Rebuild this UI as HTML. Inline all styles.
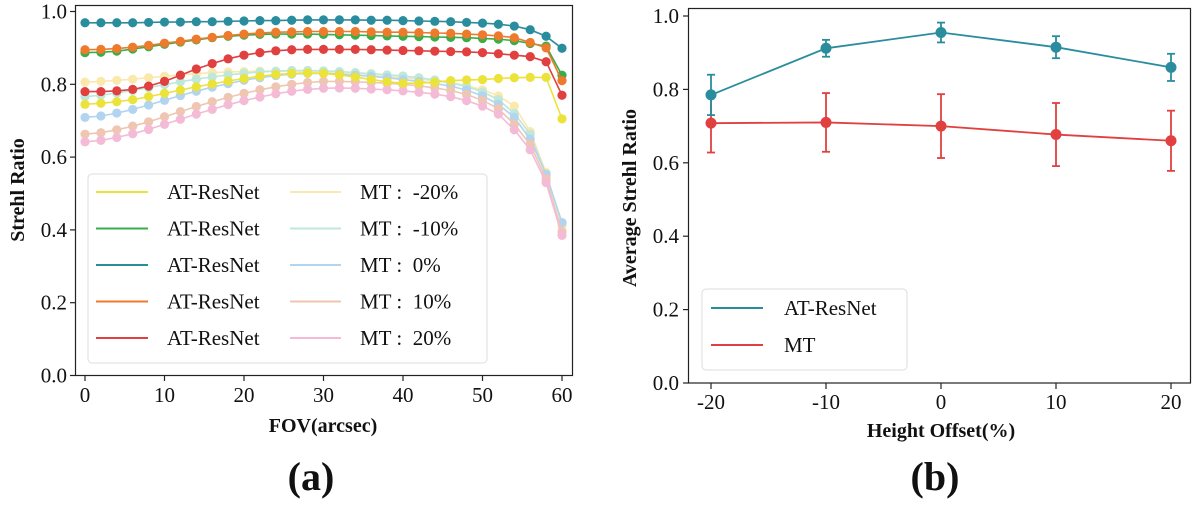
<!DOCTYPE html>
<html><head><meta charset="utf-8">
<style>
html,body{margin:0;padding:0;background:#fff;}
svg, svg text{font-family:"Liberation Serif","Times New Roman",serif !important;}
</style></head>
<body>
<svg id="fig" width="1200" height="504" viewBox="0 0 1200 504" font-family="Liberation Serif, serif"></svg>
<script>
// ---- Panel (a) data ----
const fovX = [0,2,4,6,8,10,12,14,16,18,20,22,24,26,28,30,32,34,36,38,40,42,44,46,48,50,52,54,56,58,60];
const atYellow = [0.745,0.748,0.752,0.758,0.766,0.775,0.784,0.793,0.801,0.809,0.816,0.822,0.827,0.830,0.831,0.830,0.826,0.820,0.813,0.807,0.803,0.803,0.806,0.810,0.812,0.813,0.816,0.818,0.819,0.819,0.705];
const atGreen = [0.887,0.888,0.891,0.897,0.903,0.910,0.916,0.922,0.928,0.932,0.935,0.937,0.938,0.938,0.938,0.937,0.936,0.935,0.934,0.933,0.932,0.931,0.930,0.929,0.928,0.926,0.924,0.920,0.912,0.905,0.825];
const atTeal = [0.969,0.969,0.969,0.969,0.970,0.971,0.971,0.972,0.972,0.973,0.974,0.975,0.975,0.976,0.977,0.977,0.977,0.977,0.976,0.976,0.975,0.974,0.973,0.972,0.970,0.968,0.965,0.960,0.950,0.932,0.899];
const atOrange = [0.895,0.896,0.898,0.902,0.907,0.913,0.918,0.924,0.929,0.934,0.938,0.941,0.943,0.944,0.945,0.945,0.945,0.945,0.944,0.943,0.943,0.942,0.941,0.940,0.938,0.936,0.933,0.928,0.915,0.900,0.810];
const atRed = [0.780,0.780,0.782,0.786,0.795,0.808,0.825,0.842,0.857,0.870,0.880,0.887,0.892,0.895,0.896,0.896,0.896,0.896,0.895,0.894,0.893,0.892,0.891,0.890,0.889,0.887,0.884,0.880,0.876,0.862,0.770];
const mtM20 = [0.806,0.808,0.811,0.814,0.818,0.822,0.826,0.829,0.832,0.834,0.835,0.836,0.836,0.836,0.835,0.833,0.830,0.827,0.824,0.821,0.818,0.814,0.810,0.804,0.796,0.785,0.768,0.740,0.670,0.558,0.410];
const mtM10 = [0.766,0.770,0.776,0.783,0.791,0.799,0.807,0.814,0.820,0.826,0.830,0.834,0.836,0.838,0.838,0.837,0.835,0.832,0.829,0.826,0.823,0.818,0.812,0.804,0.794,0.779,0.758,0.720,0.663,0.550,0.420];
const mtZero = [0.709,0.713,0.721,0.731,0.743,0.756,0.769,0.781,0.792,0.802,0.811,0.818,0.824,0.828,0.830,0.830,0.828,0.825,0.822,0.818,0.813,0.808,0.802,0.795,0.784,0.768,0.745,0.709,0.649,0.553,0.420];
const mtP10 = [0.663,0.667,0.675,0.685,0.697,0.711,0.725,0.739,0.752,0.764,0.775,0.785,0.793,0.800,0.805,0.808,0.808,0.807,0.805,0.803,0.800,0.796,0.790,0.783,0.772,0.756,0.733,0.690,0.635,0.540,0.395];
const mtP20 = [0.642,0.646,0.654,0.664,0.676,0.690,0.704,0.718,0.731,0.744,0.755,0.765,0.774,0.781,0.786,0.789,0.790,0.789,0.787,0.785,0.782,0.778,0.773,0.766,0.755,0.740,0.718,0.675,0.620,0.530,0.385];
const aYTicks = ["0.0","0.2","0.4","0.6","0.8","1.0"];
const aXTicks = ["0","10","20","30","40","50","60"];
const aSeriesNames = ["at-yellow","at-green","at-teal","at-orange","at-red","mt-minus20","mt-minus10","mt-0","mt-10","mt-20"];
const aLegendAT = ["AT-ResNet","AT-ResNet","AT-ResNet","AT-ResNet","AT-ResNet"];
const aLegendMT = ["MT :  -20%","MT :  -10%","MT :  0%","MT :  10%","MT :  20%"];

// ---- Panel (b) data ----
const offsets = [-20,-10,0,10,20];
const atAvg = [0.785,0.912,0.955,0.915,0.860];
const atErr = [0.055,0.023,0.027,0.030,0.037];
const mtAvg = [0.708,0.710,0.700,0.677,0.660];
const mtErr = [0.080,0.080,0.087,0.086,0.082];
const bYTicks = ["0.0","0.2","0.4","0.6","0.8","1.0"];
const bXTicks = ["-20","-10","0","10","20"];

const NS="http://www.w3.org/2000/svg";
const FF="Liberation Serif, Times New Roman, serif";
const svg=document.getElementById('fig');
function mk(tag,attrs,parent){const e=document.createElementNS(NS,tag);for(const k in attrs)e.setAttribute(k,attrs[k]);(parent||svg).appendChild(e);return e;}
function txt(s,attrs,parent){attrs['font-family']=FF;const e=mk('text',attrs,parent);e.textContent=s;return e;}

// ===== Panel (a) =====
const ax=v=>85+v*7.95;
const ay=v=>375.5-v*364;
const gA=mk('g',{});


const aColors=['#ebe23a','#3aad48','#2a8d9e','#ee7a2c','#e0403f','#fbe8ad','#bde8da','#b2d4ef','#efc6b2','#f4bbd7'];
const aData=[atYellow,atGreen,atTeal,atOrange,atRed,mtM20,mtM10,mtZero,mtP10,mtP20];
const drawOrder=[5,6,7,8,9,0,1,3,4,2];
drawOrder.forEach(i=>{
  const g=mk('g',{},gA);
  
  
  const pts=aData[i].map((v,j)=>ax(fovX[j]).toFixed(1)+','+ay(v).toFixed(1)).join(' ');
  mk('polyline',{points:pts,fill:'none',stroke:aColors[i],'stroke-width':1.6},g);
  aData[i].forEach((v,j)=>{
    const c=mk('circle',{cx:ax(fovX[j]),cy:ay(v),r:4.6,fill:aColors[i]},g);
    
    
  });
});
const frameA=mk('rect',{x:75.5,y:5.5,width:497,height:370,fill:'none',stroke:'#222','stroke-width':1.2},gA);


aYTicks.forEach(t=>{
  const v=parseFloat(t),y=ay(v);
  mk('line',{x1:70,x2:75.5,y1:y,y2:y,stroke:'#222','stroke-width':1.2},gA);
  const l=txt(t,{x:67,y:y+7,'font-size':21,'text-anchor':'end',fill:'#111'},gA);
  
  
});
aXTicks.forEach(t=>{
  const x=ax(parseFloat(t));
  mk('line',{x1:x,x2:x,y1:375.5,y2:381,stroke:'#222','stroke-width':1.2},gA);
  const l=txt(t,{x:x,y:402,'font-size':21,'text-anchor':'middle',fill:'#111'},gA);
  
  
});
const yTitleA=txt('Strehl Ratio',{x:0,y:0,'font-size':20,'font-weight':'bold','text-anchor':'middle',transform:'translate(24,190) rotate(-90)',fill:'#111'},gA);


const xTitleA=txt('FOV(arcsec)',{x:323,y:432,'font-size':20,'font-weight':'bold','text-anchor':'middle',fill:'#111'},gA);


const capA=txt('(a)',{x:311,y:490,'font-size':40,'font-weight':'bold','text-anchor':'middle',fill:'#111'},gA);


const legA=mk('g',{},gA);


mk('rect',{x:88,y:174,width:399,height:189,rx:4,fill:'#fff','fill-opacity':0.85,stroke:'#ddd','stroke-width':1},legA);
for(let i=0;i<5;i++){
  const y=192+i*36.5;
  const e1=mk('g',{},legA);
  
  
  mk('line',{x1:96,x2:148,y1:y,y2:y,stroke:aColors[i],'stroke-width':2},e1);
  txt(aLegendAT[i],{x:167,y:y+7,'font-size':21,fill:'#111'},e1);
  const e2=mk('g',{},legA);
  
  
  mk('line',{x1:290,x2:341,y1:y,y2:y,stroke:aColors[i+5],'stroke-width':2},e2);
  txt(aLegendMT[i],{x:360,y:y+7,'font-size':21,fill:'#111'},e2).style.whiteSpace='pre';
}

// ===== Panel (b) =====
const bx=v=>941+v*11.5;
const by=v=>383-v*367;
const gB=mk('g',{});


function drawB(vals,errs,color,name){
  const g=mk('g',{},gB);
  
  
  mk('polyline',{points:vals.map((v,i)=>bx(offsets[i])+','+by(v)).join(' '),fill:'none',stroke:color,'stroke-width':1.8},g);
  vals.forEach((v,i)=>{
    const x=bx(offsets[i]),y1=by(v+errs[i]),y2=by(v-errs[i]);
    const eb=mk('g',{},g);
    
    
    mk('line',{x1:x,x2:x,y1:y1,y2:y2,stroke:color,'stroke-width':1.8},eb);
    mk('line',{x1:x-4,x2:x+4,y1:y1,y2:y1,stroke:color,'stroke-width':1.8},eb);
    mk('line',{x1:x-4,x2:x+4,y1:y2,y2:y2,stroke:color,'stroke-width':1.8},eb);
    const c=mk('circle',{cx:x,cy:by(v),r:5.5,fill:color},g);
    
    
  });
}
drawB(mtAvg,mtErr,'#e0403f','mt');
drawB(atAvg,atErr,'#2a8d9e','at-resnet');
const frameB=mk('rect',{x:688.5,y:8.5,width:502,height:374.5,fill:'none',stroke:'#222','stroke-width':1.2},gB);


bYTicks.forEach(t=>{
  const y=by(parseFloat(t));
  mk('line',{x1:683,x2:688.5,y1:y,y2:y,stroke:'#222','stroke-width':1.2},gB);
  const l=txt(t,{x:679,y:y+7,'font-size':21,'text-anchor':'end',fill:'#111'},gB);
  
  
});
bXTicks.forEach(t=>{
  const x=bx(parseFloat(t));
  mk('line',{x1:x,x2:x,y1:383,y2:389,stroke:'#222','stroke-width':1.2},gB);
  const l=txt(t,{x:x,y:409,'font-size':21,'text-anchor':'middle',fill:'#111'},gB);
  
  
});
const yTitleB=txt('Average Strehl Ratio',{x:0,y:0,'font-size':20,'font-weight':'bold','text-anchor':'middle',transform:'translate(636,198) rotate(-90)',fill:'#111'},gB);


const xTitleB=txt('Height Offset(%)',{x:941,y:437,'font-size':20,'font-weight':'bold','text-anchor':'middle',fill:'#111'},gB);


const capB=txt('(b)',{x:935,y:490,'font-size':40,'font-weight':'bold','text-anchor':'middle',fill:'#111'},gB);


const legB=mk('g',{},gB);


mk('rect',{x:702,y:289,width:205,height:81,rx:4,fill:'#fff','fill-opacity':0.85,stroke:'#ddd','stroke-width':1},legB);
const lb1=mk('g',{},legB);


mk('line',{x1:711,x2:763,y1:308,y2:308,stroke:'#2a8d9e','stroke-width':2},lb1);
txt('AT-ResNet',{x:784,y:315,'font-size':21,fill:'#111'},lb1);
const lb2=mk('g',{},legB);


mk('line',{x1:711,x2:763,y1:345,y2:345,stroke:'#e0403f','stroke-width':2},lb2);
txt('MT',{x:784,y:352,'font-size':21,fill:'#111'},lb2);
</script>
</body></html>
